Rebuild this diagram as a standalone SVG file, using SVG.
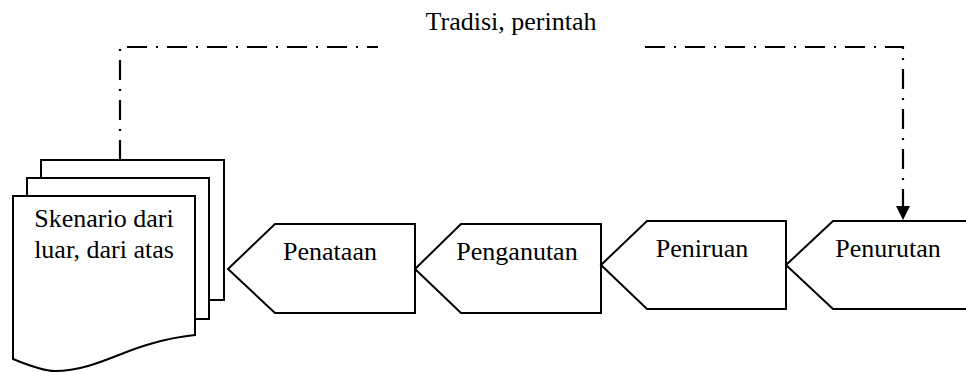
<svg xmlns="http://www.w3.org/2000/svg" width="966" height="373" viewBox="0 0 966 373">
  <style>
    .shape { fill: #fff; stroke: #000; stroke-width: 2; stroke-linejoin: miter; }
    .label { font-family: "Liberation Serif", "Times New Roman", serif; font-size: 26px; fill: #000; text-anchor: middle; }
    .flow { fill: none; stroke: #000; stroke-width: 2.2; stroke-dasharray: 20 9 2 9; }
  </style>
  <defs>
    <marker id="arrow" markerUnits="userSpaceOnUse" markerWidth="16" markerHeight="16" viewBox="0 0 16 16" refX="8" refY="14" orient="auto-start-reverse">
      <path d="M1,0 L15,0 L8,14 Z" fill="#000" transform="rotate(-90 8 8)"/>
    </marker>
  </defs>

  <rect width="966" height="373" fill="#fff"/>

  <!-- dash-dot feedback connector -->
  <g id="connectors">
    <path class="flow" d="M120,160 V47 H378"/>
    <path class="flow" d="M645,47 H903 V206"/>
    <path d="M896,206 L910,206 L903,220 Z" fill="#000"/>
  </g>

  <text class="label" x="511" y="30">Tradisi, perintah</text>

  <!-- stacked documents -->
  <g id="skenario">
    <rect class="shape" x="41" y="160" width="183" height="140"/>
    <rect class="shape" x="27" y="178" width="182" height="141"/>
    <path class="shape" d="M13,196 H195 V335 C185,336 170,338 150,344 C120,352 90,371 55,371 C45,371 30,366 13,359 Z"/>
    <text class="label" x="104" y="227">Skenario dari</text>
    <text class="label" x="104" y="258">luar, dari atas</text>
  </g>

  <g id="penataan">
    <path class="shape" d="M228,269 L275,224 H415 V313 H275 Z"/>
    <text class="label" x="330" y="260">Penataan</text>
  </g>

  <g id="penganutan">
    <path class="shape" d="M415,269 L461,224 H601 V313 H461 Z"/>
    <text class="label" x="517" y="260">Penganutan</text>
  </g>

  <g id="peniruan">
    <path class="shape" d="M601,265 L647,221 H786 V309 H647 Z"/>
    <text class="label" x="702" y="257">Peniruan</text>
  </g>

  <g id="penurutan">
    <path class="shape" d="M786,265 L833,221 H980 V309 H833 Z"/>
    <text class="label" x="888" y="257">Penurutan</text>
  </g>
</svg>
